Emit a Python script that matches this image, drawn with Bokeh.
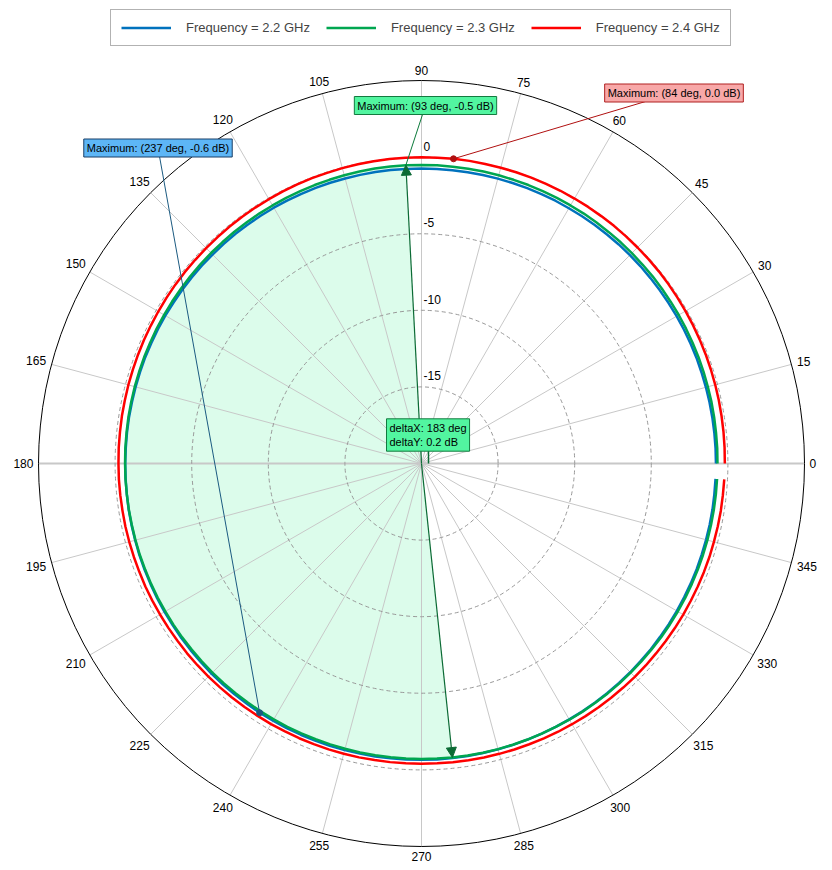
import numpy as np
from bokeh.plotting import figure
from bokeh.models import Range1d, Label, Arrow, NormalHead
from bokeh.embed import file_html
from bokeh.resources import INLINE
from bokeh.core.properties import value

# ---------------- data ----------------
angles_deg = list(range(0, 360, 3))  # 0 .. 357

gain_22 = [  # Frequency = 2.2 GHz (dB)
    -0.78, -0.78, -0.78, -0.78, -0.78, -0.78, -0.78, -0.77, -0.77, -0.77, -0.77,
    -0.77, -0.77, -0.77, -0.76, -0.76, -0.76, -0.76, -0.76, -0.76, -0.76, -0.75, -0.75, -0.75, -0.75, -0.75, -0.75, -0.75, -0.75,
    -0.75, -0.75, -0.75, -0.74, -0.74, -0.74, -0.74, -0.73, -0.73, -0.73,
    -0.73, -0.72, -0.72, -0.72, -0.71, -0.71, -0.71, -0.70, -0.70, -0.70,
    -0.70, -0.69, -0.69, -0.69, -0.68, -0.68, -0.68, -0.68, -0.67, -0.67,
    -0.67, -0.66,
    -0.66, -0.66, -0.65, -0.65, -0.65, -0.64, -0.64, -0.64, -0.63, -0.63,
    -0.63, -0.62, -0.62, -0.62, -0.61, -0.61, -0.61, -0.61, -0.60, -0.61,
    -0.61, -0.62, -0.62, -0.63, -0.63, -0.64, -0.64, -0.65, -0.65, -0.66,
    -0.66, -0.67, -0.67, -0.68, -0.68, -0.69, -0.69, -0.70, -0.70, -0.71,
    -0.71, -0.72, -0.72, -0.73, -0.73, -0.74, -0.74, -0.75, -0.75, -0.75,
    -0.76, -0.76, -0.76, -0.77, -0.77, -0.77, -0.77, -0.78, -0.78,
]
gain_23 = [  # Frequency = 2.3 GHz (dB)
    -0.68, -0.67, -0.67, -0.66, -0.65, -0.65, -0.64, -0.63, -0.63, -0.62, -0.61,
    -0.61, -0.60, -0.59, -0.59, -0.58, -0.57, -0.57, -0.56, -0.55, -0.55, -0.54, -0.54, -0.53, -0.53, -0.52, -0.52, -0.52, -0.52,
    -0.51, -0.51, -0.50, -0.51, -0.51, -0.52, -0.52, -0.53, -0.53, -0.54,
    -0.54, -0.55, -0.55, -0.56, -0.56, -0.57, -0.57, -0.58, -0.58, -0.59,
    -0.59, -0.60, -0.60, -0.61, -0.61, -0.62, -0.62, -0.63, -0.63, -0.64,
    -0.64, -0.65,
    -0.65, -0.66, -0.66, -0.67, -0.67, -0.67, -0.68, -0.68, -0.68, -0.69,
    -0.69, -0.69, -0.70, -0.70, -0.70, -0.70, -0.71, -0.71, -0.71, -0.71,
    -0.71, -0.72, -0.72, -0.72, -0.72, -0.72, -0.72, -0.72, -0.71, -0.71,
    -0.71, -0.70, -0.70, -0.70, -0.70, -0.70, -0.70, -0.70, -0.70, -0.69,
    -0.69, -0.69, -0.69, -0.69, -0.69, -0.69, -0.69, -0.68, -0.68, -0.68,
    -0.68, -0.68, -0.68, -0.68, -0.68, -0.68, -0.68, -0.68, -0.68,
]
gain_24 = [  # Frequency = 2.4 GHz (dB)
    -0.20, -0.19, -0.18, -0.17, -0.16, -0.15, -0.14, -0.13, -0.12, -0.11, -0.10,
    -0.09, -0.08, -0.07, -0.06, -0.06, -0.05, -0.04, -0.04, -0.03, -0.03, -0.02, -0.02, -0.01, -0.01, -0.01, -0.01, -0.00, 0.00,
    -0.01, -0.01, -0.02, -0.02, -0.03, -0.03, -0.04, -0.05, -0.05, -0.06,
    -0.07, -0.08, -0.08, -0.09, -0.10, -0.11, -0.12, -0.13, -0.13, -0.14,
    -0.15, -0.16, -0.17, -0.17, -0.18, -0.19, -0.19, -0.20, -0.20, -0.21,
    -0.21, -0.22,
    -0.22, -0.23, -0.24, -0.24, -0.25, -0.26, -0.27, -0.27, -0.28, -0.29,
    -0.30, -0.31, -0.31, -0.32, -0.33, -0.34, -0.34, -0.35, -0.36, -0.36,
    -0.37, -0.37, -0.38, -0.38, -0.39, -0.39, -0.40, -0.40, -0.40, -0.40,
    -0.40, -0.39, -0.39, -0.38, -0.38, -0.37, -0.37, -0.36, -0.35, -0.35,
    -0.34, -0.33, -0.33, -0.32, -0.31, -0.30, -0.30, -0.29, -0.28, -0.27,
    -0.27, -0.26, -0.25, -0.24, -0.24, -0.23, -0.22, -0.22, -0.21,
]
series_names = ["Frequency = 2.2 GHz", "Frequency = 2.3 GHz", "Frequency = 2.4 GHz"]

grid_angles = list(range(0, 360, 15))
grid_angle_labels = [str(a) for a in grid_angles]
ring_db = [-15, -10, -5, 0]
ring_labels = ["-15", "-10", "-5", "0"]
R_MIN, R_MAX = -20, 5

# markers
max_angles = [237, 93, 84]
max_values = [-0.6, -0.5, 0.0]
max_texts = ["Maximum: (237 deg, -0.6 dB)", "Maximum: (93 deg, -0.5 dB)", "Maximum: (84 deg, 0.0 dB)"]
delta_angle, delta_value = 276, -0.7
delta_text = "deltaX: 183 deg\ndeltaY: 0.2 dB"

# ---------------- styling / layout ----------------
W, H = 832, 870
CX, CY = 421, 463          # pixel centre of the polar plot
PX = 383.0 / (R_MAX - R_MIN)  # pixels per dB
FONT_NAME = "Liberation Sans"
FONT = value(FONT_NAME)
C_BLUE, C_GREEN, C_RED = "#0072BD", "#00A650", "#FF0000"


def pol(a_deg, db):
    a = np.radians(np.asarray(a_deg, dtype=float))
    r = np.asarray(db, dtype=float) - R_MIN
    return r * np.cos(a), r * np.sin(a)


def px2d(px, py):
    return (px - CX) / PX, (CY - py) / PX


p = figure(width=W, height=H, output_backend="svg", toolbar_location=None,
           x_range=Range1d(-CX / PX, (W - CX) / PX),
           y_range=Range1d(-(H - CY) / PX, CY / PX),
           x_axis_location=None, y_axis_location=None, min_border=0)
p.grid.visible = False
p.outline_line_color = None
p.background_fill_color = "white"

# shaded delta sector (following the 2.3 GHz trace)
i0 = angles_deg.index(max_angles[1])
i1 = angles_deg.index(delta_angle)
fx, fy = pol(angles_deg[i0:i1 + 1], gain_23[i0:i1 + 1])
p.patch(np.concatenate([[0], fx]), np.concatenate([[0], fy]),
        fill_color="#DCFCEB", line_color=None)

# spokes
spoke_a = [a for a in grid_angles if a not in (0, 180)]
sx, sy = pol(spoke_a, [R_MAX] * len(spoke_a))
p.segment(x0=0, y0=0, x1=sx, y1=sy, line_color="#C8C8C8", line_width=1)
hx, hy = pol([0, 180], [R_MAX, R_MAX])
p.segment(x0=hx[1], y0=hy[1], x1=hx[0], y1=hy[0], line_color="#C8C8C8", line_width=2)

# rings
p.circle(x=0, y=0, radius=[d - R_MIN for d in ring_db], fill_color=None,
         line_color="#999999", line_dash="4 3", line_width=1)
p.circle(x=0, y=0, radius=R_MAX - R_MIN, fill_color=None, line_color="#000000", line_width=1)

# ring labels along 90 deg
p.text(x=[2 / PX] * len(ring_db), y=[d - R_MIN + 11 / PX for d in ring_db], text=ring_labels,
       text_align="left", text_baseline="middle", text_font=FONT, text_font_size="12px",
       text_color="black")

# angle labels
lx, ly = [], []
for a, t in zip(grid_angles, grid_angle_labels):
    w = 6.7 * len(t)
    off = 5 + abs(np.cos(np.radians(a))) * w / 2 + abs(np.sin(np.radians(a))) * 5
    x, y = pol(a, R_MAX + off / PX)
    lx.append(float(x)); ly.append(float(y))
p.text(x=lx, y=ly, text=grid_angle_labels, text_align="center", text_baseline="middle",
       text_font=FONT, text_font_size="12px", text_color="black")

# traces
for g, c, n in zip([gain_22, gain_23, gain_24], [C_BLUE, C_GREEN, C_RED], series_names):
    x, y = pol(angles_deg, g)
    p.line(x, y, line_color=c, line_width=2.5, legend_label=n)

# annotation leaders
box_px = [(157.5, 147.5), (425, 105), (673.5, 92.5)]
lead_cols = ["#1B5A80", "#0B7A3A", "#B01010"]
box_fill = ["#5DB6F6", "#52F5A0", "#F8A8A8"]
box_line = ["#1B3F66", "#137A3F", "#B02020"]
for (bx, by), a, v, lc in zip(box_px, max_angles, max_values, lead_cols):
    mx, my = pol(a, v)
    dx, dy = px2d(bx, by)
    p.line([dx, float(mx)], [dy, float(my)], line_color=lc, line_width=1)

# markers (blue and red dots)
for k in (0, 2):
    mx, my = pol(max_angles[k], max_values[k])
    p.scatter([float(mx)], [float(my)], size=6, color=lead_cols[k])

# arrows from centre to the two delta points
for a, v in [(max_angles[1], max_values[1]), (delta_angle, delta_value)]:
    ex, ey = pol(a, v)
    p.add_layout(Arrow(end=NormalHead(size=10, fill_color="#0B6A34", line_color="#0B6A34"),
                       x_start=0, y_start=0, x_end=float(ex), y_end=float(ey),
                       line_color="#0B6A34", line_width=1.2))

# delta leader
dbx, dby = px2d(428, 434.5)
p.line([dbx, dbx], [dby, 0], line_color="#0B6A34", line_width=1.5)

# boxes
for (bx, by), t, fc, lc in zip(box_px, max_texts, box_fill, box_line):
    dx, dy = px2d(bx, by)
    p.add_layout(Label(x=dx, y=dy, text=t, text_align="center", text_baseline="middle",
                       text_font=FONT_NAME, text_font_size="11px", text_color="black",
                       background_fill_color=fc, border_line_color=lc, border_line_width=1,
                       padding=3))
dx, dy = px2d(386, 434.5)
p.add_layout(Label(x=dx, y=dy, text=delta_text, text_align="left", text_baseline="middle",
                   text_font=FONT_NAME, text_font_size="11px", text_color="black",
                   background_fill_color="#52F5A0", border_line_color="#137A3F",
                   border_line_width=1, padding=3))

# legend
lg = p.legend[0]
lg.location = (110, 824)
lg.orientation = "horizontal"
lg.label_text_font = FONT_NAME
lg.label_text_font_size = "13px"
lg.glyph_width = 50
lg.glyph_height = 15
lg.label_height = 15
lg.label_standoff = 15
lg.spacing = 16
lg.padding = 10
lg.margin = 0
lg.border_line_color = "#666666"
lg.border_line_width = 1.5
lg.background_fill_alpha = 1.0

open("out.html", "w").write(file_html(p, INLINE))
